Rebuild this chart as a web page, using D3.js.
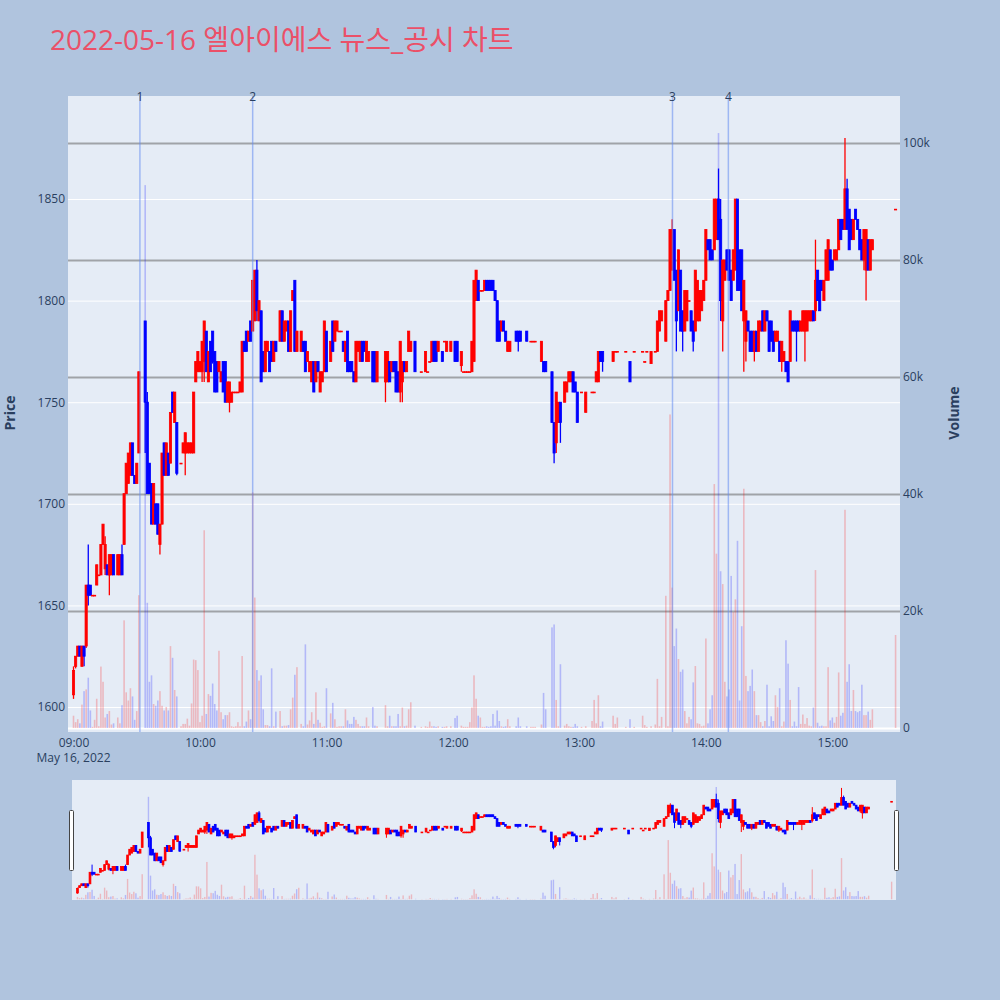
<!DOCTYPE html>
<html><head><meta charset="utf-8">
<script src="https://cdn.jsdelivr.net/npm/d3@7"></script>
<style>body{margin:0;background:#B0C4DE;} text{font-family:'Open Sans','Noto Sans CJK KR',sans-serif;}</style>
</head><body><svg id="chart" width="1000" height="1000"></svg>
<script>
// ---- data: [time, open, high, low, close, volume] per minute, by hour ----
const bars09 = [
["09:00",1606,1620,1604,1618,2100],["09:01",1620,1625,1619,1625,1000],["09:02",1625,1630,1625,1630,1500],
["09:03",1630,1630,1625,1625,800],["09:04",1620,1630,1620,1630,4000],["09:05",1630,1630,1620,1625,6300],
["09:06",1630,1660,1629,1660,6600],["09:07",1660,1680,1650,1655,8600],["09:08",1660,1660,1655,1655,3000],
["09:09",1655,1655,1655,1655,200],["09:10",1655,1655,1655,1655,1400],["09:11",1660,1670,1660,1670,5000],
["09:12",1665,1665,1665,1665,300],["09:13",1665,1680,1665,1680,10500],["09:14",1680,1690,1680,1690,7900],
["09:15",1668,1684,1665,1680,1800],["09:16",1670,1670,1665,1665,2400],["09:17",1665,1675,1655,1675,2900],
["09:18",1665,1675,1665,1675,600],["09:19",1675,1675,1665,1665,800],["09:21",1665,1675,1665,1675,1800],
["09:22",1665,1675,1665,1675,800],["09:23",1675,1680,1665,1665,3900],["09:24",1680,1705,1680,1705,18400],
["09:25",1705,1720,1705,1720,6100],["09:26",1710,1725,1710,1725,4700],["09:27",1714,1730,1714,1730,6800],
["09:28",1730,1730,1714,1714,5400],["09:29",1714,1714,1710,1710,1400],["09:30",1710,1720,1710,1720,2900],
["09:31",1725,1765,1725,1765,22700],["09:34",1790,1790,1725,1750,92800],["09:35",1750,1755,1705,1705,21400],
["09:36",1720,1720,1705,1705,7900],["09:37",1710,1710,1690,1690,9000],["09:38",1690,1710,1690,1710,4100],
["09:39",1700,1700,1690,1690,3800],["09:40",1700,1700,1685,1685,4700],["09:41",1680,1690,1675,1690,6300],
["09:42",1690,1725,1690,1725,3800],["09:43",1730,1730,1714,1714,3000],["09:44",1714,1730,1714,1730,3600],
["09:45",1725,1725,1714,1714,3000],["09:46",1720,1745,1720,1745,14000],["09:47",1755,1755,1745,1745,12000],
["09:48",1740,1755,1740,1755,6500],["09:49",1740,1740,1714,1715,5400],["09:51",1720,1720,1720,1720,300],
["09:52",1725,1730,1725,1730,700],["09:53",1725,1735,1714,1735,700],["09:54",1725,1730,1725,1730,1600],
["09:55",1725,1730,1725,1730,400],["09:56",1725,1730,1725,1730,4200],["09:57",1725,1755,1725,1755,11700],
["09:58",1760,1770,1760,1770,11600],["09:59",1765,1775,1765,1775,9900]
];
const bars10 = [
["10:00",1765,1770,1765,1770,1000],["10:01",1765,1780,1760,1780,2100],["10:02",1770,1790,1760,1790,33800],
["10:03",1785,1785,1765,1765,2400],["10:04",1760,1775,1760,1775,5800],["10:05",1780,1780,1765,1765,5500],
["10:06",1785,1785,1769,1770,7600],["10:07",1775,1775,1755,1755,4100],["10:08",1770,1770,1755,1755,3000],
["10:09",1765,1770,1765,1770,13200],["10:10",1760,1765,1760,1765,2700],["10:11",1770,1770,1755,1755,1500],
["10:12",1770,1770,1750,1750,2200],["10:13",1750,1760,1750,1760,2200],["10:14",1750,1760,1745,1760,2700],
["10:15",1750,1755,1750,1755,300],["10:16",1755,1755,1755,1755,200],["10:17",1755,1755,1755,1755,300],
["10:18",1755,1755,1755,1755,1000],["10:19",1755,1760,1755,1760,300],["10:20",1755,1780,1755,1780,12300],
["10:21",1780,1780,1775,1775,300],["10:22",1785,1785,1775,1775,1100],["10:23",1780,1785,1780,1785,3000],
["10:24",1790,1790,1780,1780,1500],["10:25",1785,1810,1785,1810,40300],["10:26",1790,1815,1790,1815,22300],
["10:27",1815,1820,1790,1795,9900],["10:28",1790,1800,1790,1800,8100],["10:29",1795,1795,1760,1760,9000],
["10:30",1775,1775,1765,1765,3200],["10:31",1765,1780,1765,1780,500],["10:32",1775,1780,1775,1780,500],
["10:33",1775,1775,1765,1765,300],["10:34",1780,1780,1770,1770,10200],["10:35",1770,1780,1770,1780,300],
["10:36",1780,1780,1775,1775,2800],["10:38",1780,1795,1780,1795,2900],["10:39",1795,1795,1780,1780,300],
["10:40",1780,1790,1780,1790,400],["10:41",1785,1790,1785,1790,400],["10:42",1790,1790,1775,1775,500],
["10:43",1775,1795,1775,1795,3200],["10:44",1800,1805,1800,1805,5200],["10:45",1810,1810,1775,1775,9100],
["10:46",1775,1785,1775,1785,10400],["10:48",1775,1785,1775,1785,700],["10:49",1780,1780,1775,1775,300],
["10:50",1780,1780,1765,1765,14300],["10:51",1770,1775,1770,1775,600],["10:52",1765,1770,1765,1770,1300],
["10:53",1760,1770,1760,1770,2700],["10:54",1770,1770,1755,1755,700],["10:55",1760,1770,1760,1770,6100],
["10:56",1770,1770,1765,1765,1400],["10:57",1755,1765,1755,1765,900],["10:58",1760,1765,1760,1765,200],
["10:59",1765,1790,1765,1790,300]
];
const bars11 = [
["11:00",1785,1785,1765,1765,6800],["11:02",1770,1780,1770,1780,2500],["11:03",1790,1790,1775,1775,4300],
["11:04",1780,1790,1780,1790,1500],["11:05",1785,1790,1785,1790,200],["11:06",1785,1785,1785,1785,300],
["11:07",1785,1785,1785,1785,300],["11:08",1780,1780,1775,1775,300],["11:09",1770,1780,1770,1780,3200],
["11:10",1785,1785,1765,1765,1300],["11:11",1770,1770,1765,1765,700],["11:12",1770,1770,1765,1765,700],
["11:13",1765,1765,1760,1760,1900],["11:14",1760,1780,1760,1780,1400],["11:15",1775,1780,1775,1780,700],
["11:16",1770,1780,1770,1780,300],["11:17",1780,1780,1770,1770,300],["11:18",1780,1780,1775,1775,300],
["11:19",1770,1780,1770,1780,1800],["11:20",1770,1775,1770,1775,300],["11:22",1775,1775,1760,1760,3600],
["11:23",1775,1775,1760,1760,400],["11:24",1760,1775,1760,1775,300],["11:28",1760,1775,1750,1775,3900],
["11:29",1760,1775,1760,1775,300],["11:30",1770,1770,1760,1760,2100],["11:31",1765,1770,1765,1770,300],
["11:32",1770,1770,1765,1765,300],["11:33",1770,1770,1755,1755,300],["11:34",1765,1765,1755,1755,2400],
["11:35",1755,1780,1750,1780,300],["11:36",1760,1770,1750,1770,3500],["11:37",1770,1770,1765,1765,300],
["11:38",1765,1770,1765,1770,400],["11:39",1775,1785,1775,1785,3200],["11:40",1775,1780,1775,1780,4400],
["11:42",1780,1780,1765,1765,400],["11:45",1765,1765,1765,1765,200],["11:47",1765,1775,1765,1775,300],
["11:48",1765,1765,1765,1765,200],["11:49",1770,1770,1770,1770,1100],["11:50",1770,1780,1770,1780,300],
["11:51",1780,1780,1770,1770,300],["11:52",1780,1780,1770,1770,200],["11:53",1775,1780,1775,1780,300],
["11:55",1775,1775,1770,1770,200],["11:56",1780,1780,1780,1780,200],["11:57",1775,1780,1775,1780,300],
["11:59",1775,1780,1775,1780,300]
];
const bars12 = [
["12:01",1780,1780,1770,1770,1700],["12:02",1780,1780,1770,1770,2100],["12:04",1768,1775,1765,1775,400],
["12:05",1765,1765,1765,1765,200],["12:06",1765,1765,1765,1765,200],["12:07",1765,1765,1765,1765,200],
["12:08",1765,1765,1765,1765,1000],["12:09",1765,1780,1765,1780,3500],["12:10",1770,1810,1770,1810,9000],
["12:11",1800,1815,1800,1815,5000],["12:12",1810,1810,1800,1800,2100],["12:13",1805,1805,1805,1805,1800],
["12:14",1805,1805,1805,1805,200],["12:15",1805,1810,1805,1810,200],["12:16",1810,1810,1805,1805,300],
["12:17",1810,1810,1805,1805,200],["12:18",1810,1810,1805,1805,300],["12:19",1810,1810,1805,1805,2400],
["12:20",1805,1805,1800,1800,400],["12:21",1800,1800,1780,1780,3000],["12:22",1790,1790,1780,1780,1200],
["12:23",1785,1790,1785,1790,300],["12:24",1790,1790,1785,1785,200],["12:25",1785,1785,1780,1780,300],
["12:26",1775,1780,1775,1780,1500],["12:27",1775,1780,1775,1780,300],["12:30",1785,1785,1780,1780,300],
["12:31",1785,1785,1775,1780,1800],["12:32",1785,1785,1780,1780,300],["12:35",1785,1785,1780,1780,300],
["12:37",1780,1780,1780,1780,200],["12:38",1780,1780,1780,1780,200],["12:39",1780,1780,1780,1780,200],
["12:42",1770,1780,1770,1780,600],["12:43",1770,1770,1765,1765,6000],["12:44",1770,1770,1765,1765,3200],
["12:47",1765,1765,1740,1740,17200],["12:48",1740,1740,1720,1725,17700],["12:49",1730,1755,1725,1755,4800],
["12:50",1740,1750,1740,1750,300],["12:51",1750,1750,1730,1740,10900],["12:53",1750,1760,1750,1760,400],
["12:54",1755,1760,1755,1760,700],["12:55",1760,1765,1760,1765,300],["12:56",1760,1765,1760,1765,200],
["12:57",1765,1765,1755,1755,200],["12:58",1760,1760,1755,1755,700],["12:59",1755,1755,1740,1740,300]
];
const bars13 = [
["13:01",1755,1755,1755,1755,200],["13:03",1745,1755,1745,1755,300],["13:06",1755,1755,1755,1755,1200],
["13:07",1755,1755,1755,1755,4800],["13:08",1760,1765,1760,1765,800],["13:09",1760,1775,1760,1775,5600],
["13:10",1775,1775,1770,1770,300],["13:11",1775,1775,1765,1770,1100],["13:16",1770,1775,1770,1775,2100],
["13:17",1775,1775,1775,1775,700],["13:18",1775,1775,1775,1775,1800],["13:22",1775,1775,1775,1775,200],
["13:24",1770,1770,1760,1760,1500],["13:26",1775,1775,1775,1775,200],["13:30",1775,1775,1775,1775,2100],
["13:31",1770,1770,1770,1770,500],["13:32",1775,1775,1775,1775,200],["13:34",1769,1775,1769,1775,300],
["13:36",1775,1775,1775,1775,600],["13:37",1775,1790,1775,1790,8400],["13:38",1785,1795,1785,1795,300],
["13:39",1790,1795,1790,1795,1900],["13:41",1780,1800,1780,1800,22600],["13:42",1800,1805,1800,1805,300],
["13:43",1805,1835,1805,1835,53600],["13:44",1815,1840,1815,1835,24000],["13:45",1835,1835,1810,1810,14000],
["13:46",1815,1815,1775,1790,17000],["13:47",1795,1825,1795,1825,11800],["13:48",1815,1815,1785,1785,9600],
["13:49",1795,1795,1775,1785,10000],["13:50",1785,1805,1785,1805,2900],["13:51",1790,1805,1790,1805,800],
["13:52",1800,1800,1800,1800,1900],["13:53",1795,1795,1785,1785,1500],["13:54",1790,1790,1775,1780,7800],
["13:55",1785,1815,1785,1815,10600],["13:56",1790,1810,1790,1810,800],["13:57",1790,1805,1790,1805,700],
["13:58",1795,1805,1795,1805,300],["13:59",1800,1810,1800,1810,400]
];
const bars14 = [
["14:00",1810,1835,1810,1835,15300],["14:01",1830,1830,1825,1825,800],["14:02",1830,1830,1820,1820,3200],
["14:03",1825,1825,1820,1820,5600],["14:04",1825,1850,1825,1850,41700],["14:05",1830,1850,1830,1850,29800],
["14:06",1850,1865,1830,1830,101700],["14:07",1840,1850,1790,1800,26800],["14:08",1790,1820,1775,1820,24600],
["14:09",1810,1820,1810,1820,7900],["14:10",1825,1825,1815,1815,5400],["14:11",1825,1825,1810,1810,6600],
["14:12",1815,1815,1800,1800,26000],["14:13",1810,1825,1810,1825,19800],["14:14",1815,1850,1815,1850,22000],
["14:15",1850,1850,1805,1805,32000],["14:16",1825,1825,1805,1805,4700],["14:17",1825,1825,1795,1795,17400],
["14:18",1790,1810,1765,1810,40900],["14:19",1780,1795,1770,1795,8900],["14:20",1790,1790,1785,1785,6300],
["14:21",1785,1785,1775,1775,7200],["14:22",1785,1785,1775,1775,10000],["14:23",1775,1785,1770,1785,6300],
["14:24",1785,1785,1775,1775,2200],["14:25",1775,1790,1775,1790,2200],["14:26",1785,1790,1785,1790,1000],
["14:27",1795,1795,1785,1785,300],["14:28",1785,1795,1785,1795,1200],["14:29",1795,1795,1790,1790,7400],
["14:30",1790,1790,1775,1775,300],["14:31",1790,1790,1780,1780,2000],["14:32",1785,1785,1775,1775,1200],
["14:33",1780,1785,1780,1785,5600],["14:34",1780,1785,1780,1785,3600],["14:35",1780,1780,1770,1770,6800],
["14:36",1770,1780,1765,1780,300],["14:37",1770,1775,1770,1775,1100],["14:38",1770,1770,1765,1765,15000],
["14:39",1770,1770,1760,1760,11000],["14:40",1770,1795,1770,1795,4800],["14:41",1790,1790,1785,1785,300],
["14:42",1790,1790,1785,1785,1100],["14:43",1790,1790,1770,1785,300],["14:44",1790,1790,1785,1785,7000],
["14:45",1785,1790,1785,1790,700],["14:46",1785,1795,1785,1795,2300],["14:47",1785,1795,1770,1795,700],
["14:48",1785,1795,1785,1795,1700],["14:49",1790,1795,1790,1795,400],["14:50",1790,1795,1790,1795,300],
["14:51",1795,1795,1790,1790,3500],["14:52",1795,1830,1790,1810,27000],["14:53",1815,1815,1800,1800,900],
["14:54",1810,1810,1795,1795,300],["14:55",1810,1810,1805,1805,400],["14:56",1800,1810,1800,1810,300],
["14:57",1810,1825,1810,1825,300],["14:58",1810,1830,1810,1830,10400],["14:59",1825,1825,1815,1815,1300]
];
const bars15 = [
["15:00",1820,1820,1815,1815,1800],["15:01",1820,1825,1820,1825,900],["15:02",1820,1825,1820,1825,1900],
["15:03",1825,1840,1825,1840,9500],["15:04",1840,1840,1830,1830,2100],["15:05",1840,1840,1835,1835,2600],
["15:06",1835,1880,1835,1855,37300],["15:07",1855,1860,1835,1835,7900],["15:08",1845,1845,1825,1825,10900],
["15:09",1840,1840,1830,1830,2900],["15:10",1830,1840,1830,1840,6500],["15:11",1845,1845,1840,1840,2900],
["15:12",1840,1840,1835,1835,2700],["15:13",1835,1835,1825,1825,2900],["15:14",1830,1830,1820,1820,7400],
["15:15",1820,1835,1815,1835,2200],["15:16",1815,1835,1800,1835,2200],["15:17",1830,1830,1815,1815,2800],
["15:18",1815,1830,1815,1830,1400],["15:19",1825,1830,1825,1830,3200],["15:30",1845,1845,1845,1845,15900]
];
const newsTimes = ["09:31:30","10:25:00","13:44:10","14:10:40"];
const newsLabels = ["1","2","3","4"];
const priceTicks = [1600,1650,1700,1750,1800,1850];
const volumeTicks = [0,20000,40000,60000,80000,100000];
const hourTicks = ["09:00","10:00","11:00","12:00","13:00","14:00","15:00"];
const timeRange = ["08:57:23","15:32:06"];
const priceRange = [1587.7,1900.7];
const volumeRange = [-684,108034];
const titleText = "2022-05-16 엘아이에스 뉴스_공시 차트";
const dateLabel = "May 16, 2022";

// ---- drawing ----
const UP = "#ff0000", DOWN = "#0000ff", TXT = "#2a3f5f";
const pT = d3.timeParse("%H:%M"), pS = d3.timeParse("%H:%M:%S");
const rows = [].concat(bars09,bars10,bars11,bars12,bars13,bars14,bars15)
  .map(r => ({t:pT(r[0]), o:r[1], h:r[2], l:r[3], c:r[4], v:r[5]}));
const svg = d3.select("#chart");
const P = {l:68, r:900, t:96, b:732};
svg.append("rect").attr("width",1000).attr("height",1000).attr("fill","#B0C4DE");

const x = d3.scaleTime().domain(timeRange.map(pS)).range([P.l,P.r]);
const y = d3.scaleLinear().domain(priceRange).range([P.b,P.t]);
const yv = d3.scaleLinear().domain(volumeRange).range([P.b,P.t]);

svg.append("text").attr("x",50).attr("y",50).attr("fill","#EB5068")
  .attr("font-size",28).text(titleText);

svg.append("rect").attr("x",P.l).attr("y",P.t).attr("width",P.r-P.l).attr("height",P.b-P.t).attr("fill","#E5ECF6");
svg.append("clipPath").attr("id","clipMain").append("rect")
  .attr("x",P.l).attr("y",P.t).attr("width",P.r-P.l).attr("height",P.b-P.t);

// price grid
const gGrid = svg.append("g").attr("transform",`translate(${P.l},0)`)
  .call(d3.axisLeft(y).tickValues(priceTicks).tickSize(-(P.r-P.l)).tickFormat(""));
gGrid.select(".domain").remove();
gGrid.selectAll("line").attr("stroke","#ffffff").attr("stroke-width",1);
// volume grid
const gGrid2 = svg.append("g").attr("transform",`translate(${P.r},0)`)
  .call(d3.axisRight(yv).tickValues(volumeTicks).tickSize(-(P.r-P.l)).tickFormat(""));
gGrid2.select(".domain").remove();
gGrid2.selectAll("line").attr("stroke",d => d===0?"#ffffff":"#a0a3a8").attr("stroke-width",2);

function drawSeries(g, xs, ys, yvs, bodyW, wickW, volW){
  g.selectAll("rect.vol").data(rows).join("rect").attr("class","vol")
    .attr("x",d=>xs(d.t)-volW/2).attr("width",volW)
    .attr("y",d=>yvs(d.v)).attr("height",d=>Math.max(0,yvs(0)-yvs(d.v)))
    .attr("fill",d=>d.c>=d.o?UP:DOWN).attr("fill-opacity",0.22);
  g.selectAll("line.wick").data(rows).join("line").attr("class","wick")
    .attr("x1",d=>xs(d.t)).attr("x2",d=>xs(d.t))
    .attr("y1",d=>ys(d.h)).attr("y2",d=>ys(d.l))
    .attr("stroke",d=>d.c>=d.o?UP:DOWN).attr("stroke-width",wickW);
  g.selectAll("rect.body").data(rows).join("rect").attr("class","body")
    .attr("x",d=>xs(d.t)-bodyW/2).attr("width",bodyW)
    .attr("y",d=>ys(Math.max(d.o,d.c)))
    .attr("height",d=>Math.max(0.8,Math.abs(ys(d.o)-ys(d.c))))
    .attr("fill",d=>d.c>=d.o?UP:DOWN)
    .attr("stroke",d=>d.c>=d.o?UP:DOWN).attr("stroke-width",0.8);
}
const gMain = svg.append("g").attr("clip-path","url(#clipMain)");
drawSeries(gMain, x, y, yv, 2.2, 1.3, 1.6);

// news lines
const gNews = svg.append("g");
newsTimes.forEach((t,i)=>{
  const xx = x(pS(t));
  gNews.append("line").attr("x1",xx).attr("x2",xx).attr("y1",P.t).attr("y2",P.b)
    .attr("stroke","rgb(100,140,240)").attr("stroke-opacity",0.55).attr("stroke-width",1.5);
  gNews.append("text").attr("x",xx).attr("y",101).attr("text-anchor","middle")
    .attr("font-size",12).attr("fill",TXT).text(newsLabels[i]);
});

// axes labels
const axL = svg.append("g").attr("transform",`translate(${P.l},0)`)
  .call(d3.axisLeft(y).tickValues(priceTicks).tickSize(0).tickPadding(3).tickFormat(d3.format("d")));
axL.select(".domain").remove();
const axR = svg.append("g").attr("transform",`translate(${P.r},0)`)
  .call(d3.axisRight(yv).tickValues(volumeTicks).tickSize(0).tickPadding(3)
  .tickFormat(d => d===0 ? "0" : (d/1000)+"k"));
axR.select(".domain").remove();
const axB = svg.append("g").attr("transform",`translate(0,${P.b})`)
  .call(d3.axisBottom(x).tickValues(hourTicks.map(pT)).tickSize(0).tickPadding(6)
  .tickFormat(d3.timeFormat("%H:%M")));
axB.select(".domain").remove();
[axL,axR,axB].forEach(a=>a.selectAll("text").attr("font-size",12).attr("fill",TXT)
  .attr("font-family","'Open Sans','Noto Sans CJK KR',sans-serif"));
svg.append("text").attr("x",x(pT(hourTicks[0]))).attr("y",762).attr("text-anchor","middle")
  .attr("font-size",12).attr("fill",TXT).text(dateLabel);

svg.append("text").attr("transform","translate(15,413) rotate(-90)").attr("text-anchor","middle")
  .attr("font-size",14).attr("font-weight","bold").attr("fill",TXT).text("Price");
svg.append("text").attr("transform","translate(959,413) rotate(-90)").attr("text-anchor","middle")
  .attr("font-size",14).attr("font-weight","bold").attr("fill",TXT).text("Volume");

// range slider
const S = {l:72, r:896, t:780, b:900};
svg.append("rect").attr("x",S.l).attr("y",S.t).attr("width",S.r-S.l).attr("height",S.b-S.t).attr("fill","#E5ECF6");
svg.append("clipPath").attr("id","clipSl").append("rect")
  .attr("x",S.l).attr("y",S.t).attr("width",S.r-S.l).attr("height",S.b-S.t);
const xs = x.copy().range([S.l,S.r]);
const ys = y.copy().range([S.b,S.t]);
const yvs = yv.copy().range([S.b,S.t]);
const gSl = svg.append("g").attr("clip-path","url(#clipSl)");
drawSeries(gSl, xs, ys, yvs, 1.8, 1, 1.4);
[[S.l-2.5],[S.r-1.5]].forEach(([hx])=>{
  svg.append("rect").attr("x",hx).attr("y",810.5).attr("width",4).attr("height",60)
    .attr("rx",1).attr("fill","#ffffff").attr("stroke","#444").attr("stroke-width",1);
});
</script></body></html>
